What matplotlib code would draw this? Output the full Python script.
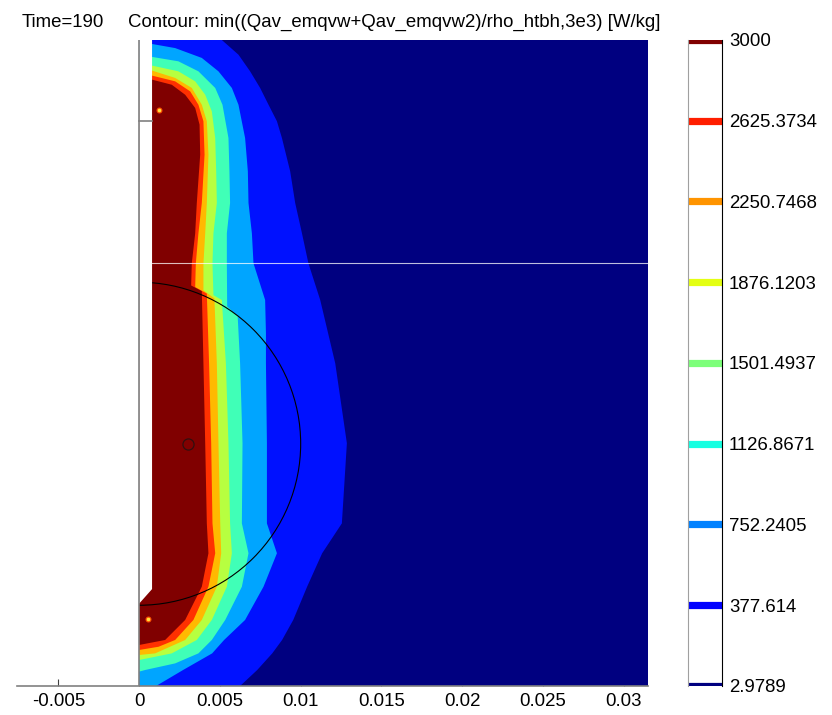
"""Contour of clipped heating rate around the probe (COMSOL style export)"""

import numpy as np
import matplotlib
matplotlib.use('Agg')
import matplotlib.pyplot as plt
from matplotlib.patches import Arc

plt.rcParams['font.family'] = ['Liberation Sans', 'DejaVu Sans']

# contour levels [W/kg]
levels = [2.9789, 377.614, 752.2405, 1126.8671, 1501.4937,
          1876.1203, 2250.7468, 2625.3734, 3000]
level_labels = ['2.9789', '377.614', '752.2405', '1126.8671', '1501.4937',
                '1876.1203', '2250.7468', '2625.3734', '3000']

# contour boundaries, r and z in mm
b377_x = [5.12, 6.15, 6.87, 7.49, 8.01, 8.53, 8.84, 9.35, 9.66, 10.08, 10.48,
          11.21, 12.14, 12.86, 12.55, 11.33, 10.40, 9.54, 8.85, 8.24, 7.31, 6.25]
b377_y = [40.0, 39.09, 38.06, 37.03, 35.99, 34.97, 33.93, 31.87, 29.91, 28.03, 26.17,
          23.90, 19.98, 15.03, 10.07, 8.22, 6.15, 4.09, 2.85, 2.02, 0.99, 0.0]

b752_x = [0.82, 2.23, 3.88, 4.91, 5.74, 6.15, 6.56, 6.73, 6.77, 6.98, 7.08, 7.80,
          7.85, 7.85, 7.91, 7.91, 8.53, 7.70, 6.56, 5.26, 4.52, 2.72, 1.05]
b752_y = [39.75, 39.50, 38.89, 38.06, 37.03, 35.99, 33.93, 31.87, 29.91, 28.03, 26.17, 23.90,
          21.84, 19.98, 15.03, 10.07, 8.22, 6.15, 4.09, 2.85, 2.02, 0.99, 0.0]

b1127_x = [0.82, 2.43, 3.67, 4.71, 5.16, 5.53, 5.59, 5.63, 5.43, 5.43, 5.45, 6.10,
           6.25, 6.40, 6.36, 6.77, 6.36, 5.33, 4.50, 3.67, 2.23, 0.37, 0.0]
b1127_y = [38.95, 38.68, 38.06, 37.03, 35.99, 33.93, 31.87, 29.91, 28.03, 26.17, 23.50, 22.90,
           19.98, 15.03, 10.07, 8.22, 6.15, 4.09, 2.85, 2.02, 1.40, 0.99, 0.89]

b1501_x = [0.82, 2.43, 3.47, 4.09, 4.50, 4.71, 4.77, 4.81, 4.60, 4.54, 4.60, 5.12,
           5.37, 5.53, 5.63, 5.74, 5.43, 4.50, 3.57, 2.02, 0.0]
b1501_y = [38.41, 38.06, 37.44, 36.61, 35.58, 33.93, 31.87, 29.91, 28.03, 26.17, 24.20, 23.90,
           19.98, 15.03, 10.07, 8.22, 6.15, 4.09, 2.85, 2.02, 1.61]

b1876_x = [0.82, 2.23, 3.26, 3.88, 4.19, 4.29, 4.19, 4.09, 3.98, 3.98, 4.66, 4.81,
           4.91, 5.02, 5.08, 4.81, 3.88, 2.85, 0.99, 0.0]
b1876_y = [38.10, 37.65, 37.03, 35.99, 34.97, 32.90, 29.91, 28.03, 26.17, 24.50, 24.00, 19.98,
           15.03, 10.07, 8.22, 6.15, 4.09, 2.85, 2.02, 1.92]

b2251_x = [0.82, 2.23, 3.16, 3.67, 3.98, 4.05, 3.88, 3.67, 3.51, 3.47, 4.19, 4.33,
           4.46, 4.54, 4.71, 4.29, 3.36, 2.23, 1.20, 0.0]
b2251_y = [37.79, 37.44, 36.82, 35.99, 34.97, 32.90, 29.91, 28.03, 26.17, 24.70, 24.30, 19.98,
           15.03, 10.07, 8.22, 6.15, 4.09, 2.85, 2.43, 2.23]

b2625_x = [0.82, 2.02, 2.85, 3.47, 3.74, 3.78, 3.57, 3.47, 3.26, 3.22, 3.88, 3.98,
           4.09, 4.19, 4.29, 3.88, 2.85, 1.61, 0.0]
b2625_y = [37.54, 37.23, 36.61, 35.79, 34.76, 32.90, 29.91, 28.03, 26.17, 24.80, 24.45, 19.98,
           15.03, 10.07, 8.22, 6.15, 4.09, 2.85, 2.54]

boundaries = [(b377_x, b377_y), (b752_x, b752_y), (b1127_x, b1127_y),
              (b1501_x, b1501_y), (b1876_x, b1876_y), (b2251_x, b2251_y),
              (b2625_x, b2625_y)]

# geometry [mm]
domain_r = 32.0
domain_z = 40.0
probe_x = [0.0, 0.8, 0.8, 0.0]
probe_y = [5.1, 6.0, 40.0, 40.0]
sphere_center = (0.0, 15.0)
sphere_radius = 10.0
boundary_z = 26.2
marker_z = 35.0
point_r, point_z = 3.0, 15.0
hot_x = [1.20, 0.54]
hot_y = [35.69, 4.13]

mm = 1e-3
jet = plt.get_cmap('jet')
band_colors = [jet(k / 7) for k in range(8)]

fig = plt.figure(figsize=(8.32, 7.15), dpi=100)
ax = fig.add_axes([17 / 832, 29 / 715, 631 / 832, 646 / 715])
ax.set_xlim(-0.00756, 0.0315)
ax.set_ylim(0, 0.04)

# background band, then nested bands
ax.fill(np.array([0, domain_r, domain_r, 0]) * mm, np.array([0, 0, domain_z, domain_z]) * mm,
        color=band_colors[0], lw=0, zorder=1)
for k, (bx, by) in enumerate(boundaries, start=1):
    xs = np.array([0] + bx + [0]) * mm
    ys = np.array([by[0]] + by + [by[-1]]) * mm
    ax.fill(xs, ys, color=band_colors[k], lw=0, zorder=1 + k * 0.01)

ax.hlines(boundary_z * mm, 0, domain_r * mm, color='white', lw=0.8, alpha=0.75, zorder=2)
ax.add_patch(Arc((sphere_center[0] * mm, sphere_center[1] * mm), 2 * sphere_radius * mm,
                 2 * sphere_radius * mm, theta1=-90, theta2=90, color='black', lw=0.8, zorder=2.5))
ax.scatter(np.array(hot_x) * mm, np.array(hot_y) * mm, s=12, color='#ffe040',
           edgecolors='#ff5000', linewidths=0.8, zorder=2.4)
ax.fill(np.array(probe_x) * mm, np.array(probe_y) * mm, color='white', lw=0, zorder=3)
ax.plot([0, 0], [0, domain_z * mm], color='#808080', lw=1.2, zorder=4)
ax.plot([0, 0.8 * mm], [marker_z * mm, marker_z * mm], color='#808080', lw=1.2, zorder=4)
ax.plot([point_r * mm], [point_z * mm], 'o', ms=8, mfc='none', mec='#301010', mew=0.9, zorder=4)

for s in ['top', 'left', 'right']:
    ax.spines[s].set_visible(False)
ax.spines['bottom'].set_color('#808080')
ax.spines['bottom'].set_linewidth(1.2)
ax.set_axisbelow(True)
ticks = [-0.005, 0, 0.005, 0.01, 0.015, 0.02, 0.025, 0.03]
ax.set_xticks(ticks)
ax.set_xticklabels(['-0.005', '0', '0.005', '0.01', '0.015', '0.02', '0.025', '0.03'])
ax.tick_params(axis='x', direction='in', length=5, color='#404040', labelsize=13.4, pad=5)
ax.set_yticks([])

fig.text(22 / 832, 1 - 27 / 715, 'Time=190', fontsize=13.4, va='baseline')
fig.text(128 / 832, 1 - 27 / 715,
         'Contour: min((Qav_emqvw+Qav_emqvw2)/rho_htbh,3e3) [W/kg]',
         fontsize=13.4, va='baseline')

# colour legend
cax = fig.add_axes([688 / 832, 29 / 715, 34 / 832, 646 / 715])
cax.set_xlim(0, 1)
cax.set_ylim(levels[0], levels[-1])
for i, lv in enumerate(levels):
    cax.axhline(lv, color=jet(i / 8), lw=5.2)
cax.spines['top'].set_visible(False)
cax.spines['bottom'].set_visible(False)
cax.spines['left'].set_color('#a0a0a0')
cax.spines['right'].set_color('black')
cax.set_xticks([])
cax.yaxis.tick_right()
cax.set_yticks(levels)
cax.set_yticklabels(level_labels)
cax.tick_params(axis='y', length=0, pad=5, labelsize=13.4)

fig.savefig('out.png', dpi=100)
